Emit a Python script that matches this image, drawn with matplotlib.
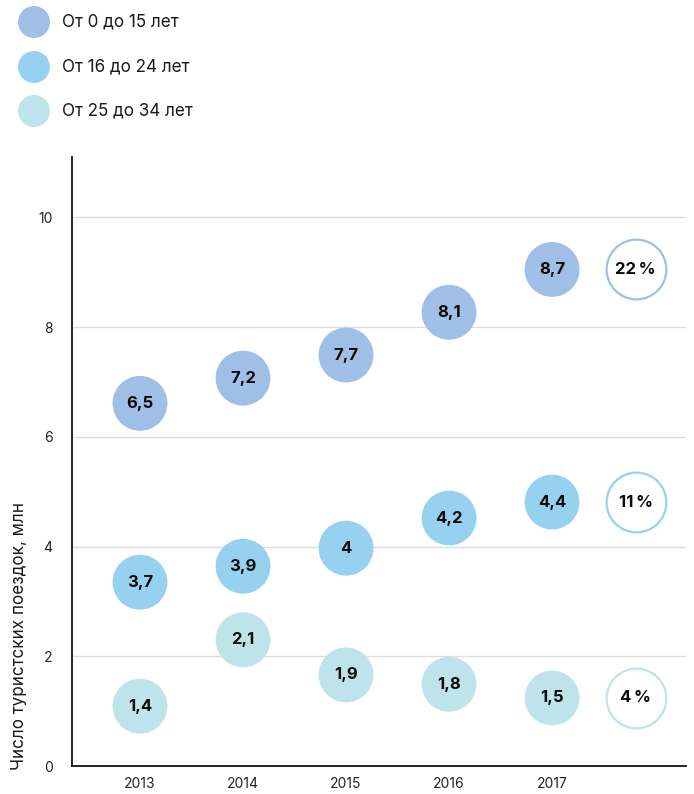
import matplotlib
matplotlib.use("Agg")
import matplotlib.pyplot as plt

plt.rcParams['font.family'] = ['Inter', 'DejaVu Sans']

years = ["2013", "2014", "2015", "2016", "2017"]
series_names = ["От 0 до 15 лет", "От 16 до 24 лет", "От 25 до 34 лет"]
# plotted bubble heights (as placed in the picture)
pos_0_15 = [6.61, 7.07, 7.49, 8.27, 9.05]
pos_16_24 = [3.35, 3.64, 3.97, 4.52, 4.81]
pos_25_34 = [1.09, 2.30, 1.66, 1.49, 1.24]
# printed labels
lab_0_15 = ["6,5", "7,2", "7,7", "8,1", "8,7"]
lab_16_24 = ["3,7", "3,9", "4", "4,2", "4,4"]
lab_25_34 = ["1,4", "2,1", "1,9", "1,8", "1,5"]
growth = ["22\u2009%", "11\u2009%", "4\u2009%"]
yticks = [0, 2, 4, 6, 8, 10]
ylabel = "Число туристских поездок, млн"

colors = ["#A0BFE6", "#97D1F0", "#BFE3EA"]
positions = [pos_0_15, pos_16_24, pos_25_34]
labels = [lab_0_15, lab_16_24, lab_25_34]

fig = plt.figure(figsize=(6.94, 7.94), dpi=100)
ax = fig.add_axes([72/694, 28/794, (686-72)/694, (766-157)/794])

xs = list(range(len(years)))
pct_x = 4.81
for pos, lab, col in zip(positions, labels, colors):
    ax.scatter(xs, pos, s=1560, color=col, edgecolors='none', zorder=3)
    for x, y, t in zip(xs, pos, lab):
        ax.text(x, y, t, ha='center', va='center', fontsize=12, fontweight='bold',
                color='#0a0a0a', zorder=4)
for pos, g, col in zip(positions, growth, colors):
    ax.scatter([pct_x], [pos[-1]], s=1850, facecolor='white', edgecolors=col,
               linewidths=1.6, zorder=3)
    ax.text(pct_x, pos[-1], g, ha='center', va='center', fontsize=12,
            fontweight='bold', color='#0a0a0a', zorder=4)

ax.set_xlim(-0.66, 5.30)
ax.set_ylim(0, 11.1)
ax.set_yticks(yticks)
ax.set_yticklabels([str(v) for v in yticks], fontsize=10, color='#222222')
ax.set_xticks(xs)
ax.set_xticklabels(years, fontsize=10, color='#222222')
ax.tick_params(axis='both', length=0)
ax.tick_params(axis='y', pad=14)
ax.tick_params(axis='x', pad=8)
for v in yticks[1:]:
    ax.axhline(v, color='#DDDDDD', linewidth=1, zorder=1)
for s in ['top', 'right']:
    ax.spines[s].set_visible(False)
for s in ['left', 'bottom']:
    ax.spines[s].set_linewidth(1.3)
    ax.spines[s].set_color('#111111')

fig.text(20/694, (794-636)/794, ylabel, rotation=90, ha='center', va='center',
         fontsize=12.3, color='#1a1a1a')

# legend
lax = fig.add_axes([0, 0, 1, 1], facecolor='none')
lax.set_xlim(0, 694)
lax.set_ylim(794, 0)
lax.axis('off')
leg_y = [22, 67, 111]
for y, name, col in zip(leg_y, series_names, colors):
    lax.scatter([34], [y], s=530, color=col, edgecolors='none')
    lax.text(62, y, name, ha='left', va='center', fontsize=12.3, color='#1a1a1a')

fig.savefig("out.png", dpi=100)
